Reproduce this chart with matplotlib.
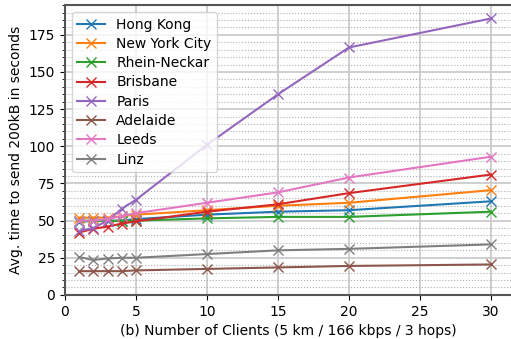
import matplotlib
matplotlib.use('Agg')
import matplotlib.pyplot as plt
from matplotlib.ticker import MultipleLocator

x = [1, 2, 3, 4, 5, 10, 15, 20, 30]
hong_kong = [49, 50, 50, 50, 51, 54, 56, 57, 63]
new_york = [52, 52, 52, 53, 54, 57, 60, 62, 70.5]
rhein_neckar = [50, 50, 50, 49.5, 50, 51.5, 52.5, 52.5, 56]
brisbane = [42, 44.5, 46, 48, 49.5, 56, 61, 68.5, 81]
paris = [43, 45, 50, 58, 64, 101, 135, 166.5, 186]
adelaide = [16, 16, 16, 16, 16.5, 17.5, 18.5, 19.5, 20.5]
leeds = [50, 50, 51, 53, 55, 62, 69, 79, 93]
linz = [25.5, 23.5, 24.5, 25, 25, 27.5, 30, 31, 34]

series = [
    ('Hong Kong', hong_kong),
    ('New York City', new_york),
    ('Rhein-Neckar', rhein_neckar),
    ('Brisbane', brisbane),
    ('Paris', paris),
    ('Adelaide', adelaide),
    ('Leeds', leeds),
    ('Linz', linz),
]

fig = plt.figure(figsize=(5.11, 3.39), dpi=100)
ax = fig.add_axes([0.127, 0.130, 0.873, 0.855])

for name, vals in series:
    ax.plot(x, vals, marker='x', markersize=7, linewidth=1.5, label=name)

ax.set_xlim(0, 31.4)
ax.set_ylim(0, 195)
ax.xaxis.set_major_locator(MultipleLocator(5))
ax.yaxis.set_major_locator(MultipleLocator(25))
ax.yaxis.set_minor_locator(MultipleLocator(5))

ax.grid(which='major', color='#cccccc', linewidth=1.3, linestyle='-')
ax.grid(which='minor', axis='y', color='#b0b0b0', linewidth=0.8, linestyle=':')
ax.set_axisbelow(True)

for side in ['left', 'bottom', 'top']:
    ax.spines[side].set_color('#555555')
    ax.spines[side].set_linewidth(1.5)
ax.spines['right'].set_visible(False)

ax.set_xlabel('(b) Number of Clients (5 km / 166 kbps / 3 hops)')
ax.set_ylabel('Avg. time to send 200kB in seconds')

ax.legend(loc='upper left', labelspacing=0.38)

plt.savefig('out.png', dpi=100)
